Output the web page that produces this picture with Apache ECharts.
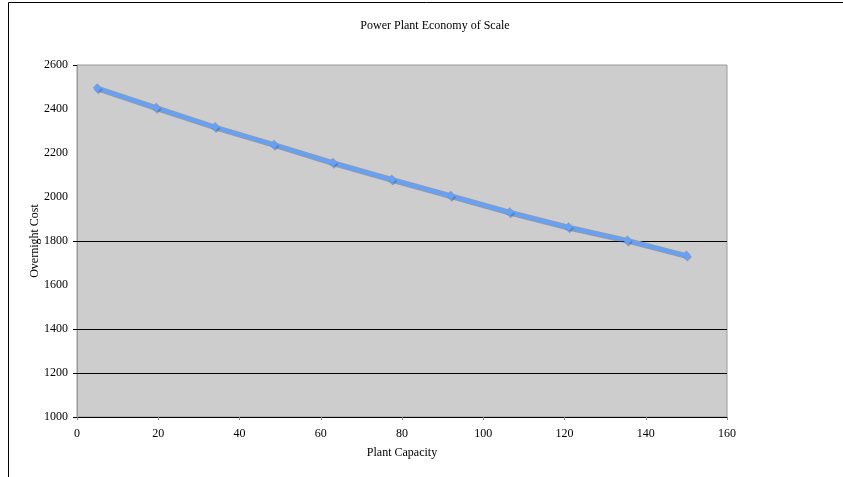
<!DOCTYPE html>
<html>
<head>
<meta charset="utf-8">
<script src="https://cdn.jsdelivr.net/npm/echarts@6/dist/echarts.min.js"></script>
<style>html,body{margin:0;padding:0;background:#fff;}#c{width:843px;height:477px;}</style>
</head>
<body>
<div id="c"></div>
<script>
var titleText = "Power Plant Economy of Scale";
var xName = "Plant Capacity";
var yName = "Overnight Cost";
var capacity = [5, 19.5, 34, 48.5, 63, 77.5, 92, 106.5, 121, 135.5, 150];
var cost = [2497, 2408, 2320, 2240, 2158, 2082, 2008, 1933, 1865, 1805, 1736];
var visibleGridValues = [1200, 1400, 1800];
var yTickValues = [1000, 1200, 1400, 1800, 2600];

var font = "'Liberation Serif', 'Times New Roman', serif";
var chart = echarts.init(document.getElementById('c'), null, {renderer: 'canvas'});
chart.setOption({
  animation: false,
  backgroundColor: '#ffffff',
  title: {
    text: titleText, left: 430, top: 15, textAlign: 'center',
    textStyle: {fontFamily: font, fontSize: 12, fontWeight: 'normal', color: '#000'}
  },
  graphic: [{
    type: 'rect', silent: true, z: -1,
    shape: {x: 8.5, y: 2.5, width: 1000, height: 1000},
    style: {fill: 'none', stroke: '#000', lineWidth: 1}
  }],
  grid: {
    left: 77, right: 116, top: 65, bottom: 60,
    show: true, backgroundColor: '#cdcdcd', borderColor: '#9a9a9a', borderWidth: 1
  },
  xAxis: {
    type: 'value', min: 0, max: 160, interval: 20,
    name: xName, nameLocation: 'middle', nameGap: 30,
    nameTextStyle: {fontFamily: font, fontSize: 12, color: '#000'},
    axisLine: {lineStyle: {color: '#000', width: 1}},
    axisTick: {show: true, length: 3, lineStyle: {color: '#888'}},
    axisLabel: {fontFamily: font, fontSize: 12, color: '#000', margin: 11},
    splitLine: {show: false}
  },
  yAxis: {
    type: 'value', min: 1000, max: 2600, interval: 200,
    name: yName, nameLocation: 'middle', nameGap: 36, nameMoveOverlap: false,
    nameTextStyle: {fontFamily: font, fontSize: 12, color: '#000'},
    axisLine: {show: true, lineStyle: {color: '#9a9a9a', width: 1}},
    axisTick: {show: true, length: 4, customValues: yTickValues, lineStyle: {color: '#000'}},
    axisLabel: {fontFamily: font, fontSize: 12, color: '#000', margin: 9,
      formatter: function (v) { return String(v); }},
    splitLine: {show: false}
  },
  series: [{
    type: 'line',
    data: capacity.map(function (x, i) { return [x, cost[i]]; }),
    symbol: 'diamond', symbolSize: 9,
    lineStyle: {color: '#62a2fb', width: 4, shadowColor: 'rgba(90,90,90,0.45)', shadowBlur: 0, shadowOffsetX: 1, shadowOffsetY: 2},
    itemStyle: {color: '#62a2fb', shadowColor: 'rgba(90,90,90,0.45)', shadowBlur: 0, shadowOffsetX: 1, shadowOffsetY: 2},
    z: 3,
    markLine: {
      silent: true, symbol: 'none', label: {show: false}, z: 1,
      lineStyle: {color: '#000', width: 1, type: 'solid'},
      data: visibleGridValues.map(function (v) { return {yAxis: v}; })
    }
  }]
});
</script>
</body>
</html>
